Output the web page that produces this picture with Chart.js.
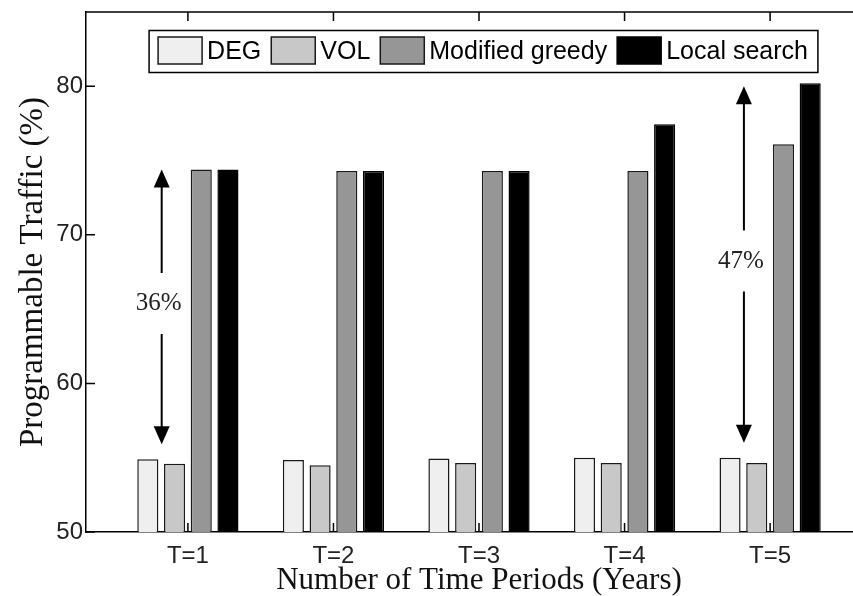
<!DOCTYPE html>
<html>
<head>
<meta charset="utf-8">
<script src="https://cdn.jsdelivr.net/npm/chart.js@4.4.1/dist/chart.umd.min.js"></script>
<style>
  html, body { margin: 0; padding: 0; background: #fff; }
  /* the original figure is cropped on the right, so the canvas is wider than the view */
  #wrap { width: 853px; height: 596px; overflow: hidden; }
</style>
</head>
<body>
<div id="wrap"><canvas id="barChart" width="872" height="596"></canvas></div>
<script>
// data
const periods = [1, 2, 3, 4, 5];
const degValues = [54.9, 54.85, 54.95, 55.0, 55.0];
const volValues = [54.6, 54.5, 54.65, 54.65, 54.65];
const greedyValues = [74.4, 74.3, 74.3, 74.3, 76.1];
const localValues = [74.4, 74.3, 74.3, 77.45, 80.2];
const yTicks = [50, 60, 70, 80];

// gap arrows (36% / 47%)
const gapPeriods = [1, 5];
const gapLow = [55.9, 56.0];
const gapHigh = [74.4, 80.0];
const gapLabels = ["36%", "47%"];

const SANS = '"Liberation Sans", Arial, sans-serif';
const SERIF = '"Liberation Serif", "Times New Roman", serif';

const toPoints = vals => periods.map((p, i) => ({ x: p, y: vals[i] }));

// box + inward ticks, matlab style
const framePlugin = {
  id: "frame",
  beforeDatasetsDraw(chart) {
    const { ctx, chartArea: a, scales: { x, y } } = chart;
    ctx.save();
    ctx.strokeStyle = "#000";
    ctx.lineWidth = 1.5;
    ctx.beginPath();
    ctx.moveTo(a.left, a.top);
    ctx.lineTo(a.right, a.top);
    yTicks.forEach(v => {
      const py = y.getPixelForValue(v);
      ctx.moveTo(a.left, py);
      ctx.lineTo(a.left + 9, py);
    });
    periods.forEach(p => {
      const px = x.getPixelForValue(p);
      ctx.moveTo(px, a.top);
      ctx.lineTo(px, a.top + 9);
      ctx.moveTo(px, a.bottom);
      ctx.lineTo(px, a.bottom - 9);
    });
    ctx.stroke();
    ctx.restore();
  },
};

function arrowHead(ctx, x, tipY, dir) {
  ctx.beginPath();
  ctx.moveTo(x, tipY);
  ctx.lineTo(x - 8, tipY - dir * 18);
  ctx.lineTo(x + 8, tipY - dir * 18);
  ctx.closePath();
  ctx.fill();
}

const gapPlugin = {
  id: "gaps",
  afterDatasetsDraw(chart) {
    const { ctx, scales: { x, y } } = chart;
    ctx.save();
    ctx.strokeStyle = "#000";
    ctx.fillStyle = "#000";
    ctx.lineWidth = 2;
    gapPeriods.forEach((p, i) => {
      const px = x.getPixelForValue(p - 0.18);
      const yTop = y.getPixelForValue(gapHigh[i]);
      const yBot = y.getPixelForValue(gapLow[i]);
      const yMid = (yTop + yBot) / 2 - 3;
      ctx.beginPath();
      ctx.moveTo(px, yTop + 10);
      ctx.lineTo(px, yMid - 31);
      ctx.moveTo(px, yMid + 30);
      ctx.lineTo(px, yBot - 10);
      ctx.stroke();
      arrowHead(ctx, px, yTop, -1);
      arrowHead(ctx, px, yBot, 1);
      ctx.font = "25px " + SERIF;
      ctx.fillStyle = "#222";
      ctx.textAlign = "center";
      ctx.textBaseline = "middle";
      ctx.fillText(gapLabels[i], px - 3, yMid);
      ctx.fillStyle = "#000";
    });
    ctx.restore();
  },
};

// boxed legend inside the axes
const legendPlugin = {
  id: "boxLegend",
  afterDraw(chart) {
    const { ctx, chartArea: a } = chart;
    const boxW = 44, boxH = 27, inner = 9, gap = 5, sep = 10;
    ctx.save();
    ctx.font = "25px " + SANS;
    const items = chart.data.datasets.map(ds => ({
      label: ds.label,
      fill: ds.backgroundColor,
      stroke: ds.borderColor,
      w: ctx.measureText(ds.label).width,
    }));
    let total = inner * 2 + 1 + sep * (items.length - 1);
    items.forEach(it => { total += boxW + gap + it.w; });
    const left = (a.left + a.right) / 2 + 4.5 - total / 2;
    const top = a.top + 18.5;
    ctx.fillStyle = "#fff";
    ctx.fillRect(left, top, total, 42);
    ctx.strokeStyle = "#000";
    ctx.lineWidth = 1.5;
    ctx.strokeRect(left, top, total, 42);
    let cx = left + inner;
    items.forEach(it => {
      ctx.fillStyle = it.fill;
      ctx.fillRect(cx, top + 6.5, boxW, boxH);
      ctx.strokeStyle = it.stroke;
      ctx.lineWidth = 1.5;
      ctx.strokeRect(cx, top + 6.5, boxW, boxH);
      cx += boxW + gap;
      ctx.fillStyle = "#000";
      ctx.textAlign = "left";
      ctx.textBaseline = "alphabetic";
      ctx.fillText(it.label, cx, top + 28);
      cx += it.w + sep;
    });
    ctx.restore();
  },
};

new Chart(document.getElementById("barChart"), {
  type: "bar",
  data: {
    datasets: [
      {
        label: "DEG",
        data: toPoints(degValues),
        backgroundColor: "#efefef",
        borderColor: "#1a1a1a",
        borderWidth: 1.5,
      },
      {
        label: "VOL",
        data: toPoints(volValues),
        backgroundColor: "#c8c8c8",
        borderColor: "#1a1a1a",
        borderWidth: 1.5,
      },
      {
        label: "Modified greedy",
        data: toPoints(greedyValues),
        backgroundColor: "#969696",
        borderColor: "#1a1a1a",
        borderWidth: 1.5,
      },
      {
        label: "Local search",
        data: toPoints(localValues),
        backgroundColor: "#000",
        borderColor: "#000",
        borderWidth: 1.5,
      },
    ],
  },
  options: {
    responsive: false,
    animation: false,
    layout: { padding: { top: 12, right: 0, left: 0, bottom: 0 } },
    datasets: {
      bar: { categoryPercentage: 0.734, barPercentage: 0.79 },
    },
    plugins: {
      legend: { display: false },
      tooltip: { enabled: false },
    },
    scales: {
      x: {
        type: "linear",
        min: 0.3,
        max: 5.7,
        offset: false,
        grid: { display: false, drawTicks: false },
        border: { display: true, color: "#000", width: 1.5 },
        afterBuildTicks: s => { s.ticks = periods.map(v => ({ value: v })); },
        afterFit: s => { s.height = 64; s.paddingLeft = 0; s.paddingRight = 0; },
        ticks: {
          padding: 10,
          color: "#222",
          font: { family: SANS, size: 24 },
          maxRotation: 0,
          autoSkip: false,
          callback: v => "T=" + v,
        },
        title: {
          display: true,
          text: "Number of Time Periods (Years)",
          color: "#111",
          font: { family: SERIF, size: 31, lineHeight: 1 },
          padding: { top: 0, bottom: 0 },
        },
      },
      y: {
        min: 50,
        max: 85,
        grid: { display: false, drawTicks: false },
        border: { display: true, color: "#000", width: 1.5 },
        afterBuildTicks: s => { s.ticks = yTicks.map(v => ({ value: v })); },
        afterFit: s => { s.width = 86; s.paddingTop = 0; s.paddingBottom = 0; },
        ticks: {
          padding: 3,
          color: "#222",
          font: { family: SANS, size: 24 },
        },
        title: {
          display: true,
          text: "Programmable Traffic (%)",
          color: "#111",
          font: { family: SERIF, size: 33, lineHeight: 1 },
          padding: { top: 17, bottom: 0 },
        },
      },
    },
  },
  plugins: [framePlugin, gapPlugin, legendPlugin],
});
</script>
</body>
</html>
